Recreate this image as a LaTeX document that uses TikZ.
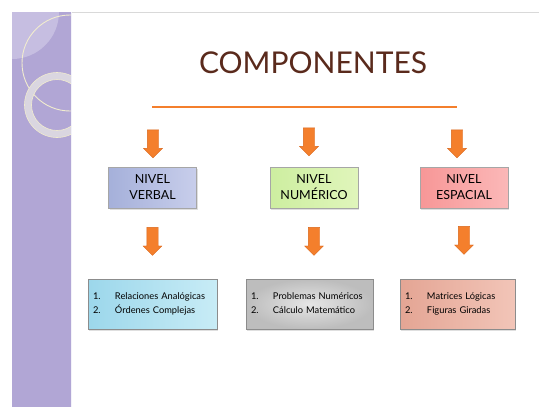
\documentclass[tikz,border=0pt]{standalone}
\usepackage{fontspec}
\setmainfont{Lato}
\usetikzlibrary{shapes,arrows,shadows,positioning}
\definecolor{cafe}{HTML}{5A2A1C}
\definecolor{naranja}{HTML}{F47F2C}
\definecolor{naranjaborde}{HTML}{D9661A}
\definecolor{lila}{HTML}{B1A6D5}
\definecolor{lilaclaro}{HTML}{C6BEE1}
\definecolor{crema}{HTML}{F1ECCF}
\definecolor{anillo}{HTML}{DAD6E0}
\definecolor{azulA}{HTML}{A5B0DA}
\definecolor{azulB}{HTML}{C8CEEB}
\definecolor{verdeA}{HTML}{CDEEA0}
\definecolor{verdeB}{HTML}{E0F5BB}
\definecolor{rojoA}{HTML}{F79797}
\definecolor{rojoB}{HTML}{FBB8B8}
\definecolor{cianA}{HTML}{9CD7EB}
\definecolor{cianB}{HTML}{C8ECF6}
\definecolor{salmonA}{HTML}{E4A594}
\definecolor{salmonB}{HTML}{F2C5B8}

\begin{document}
\begin{tikzpicture}
		[
		x = 1pt, y = -1pt,
		nivel/.style = {draw = black!35, minimum width = 88pt, minimum height = 41pt, inner sep = 0pt, align = center, font = \fontsize{12.5}{16}\selectfont, drop shadow = {opacity = 0.25, shadow xshift = 1pt, shadow yshift = -1.5pt}},
		lista/.style = {draw = black!45, minimum height = 50pt, inner xsep = 5pt, inner ysep = 0pt, align = left, font = \fontsize{9.3}{14}\selectfont, drop shadow = {opacity = 0.25, shadow xshift = 1pt, shadow yshift = -1.5pt}},
		flecha/.style = {single arrow, draw = naranjaborde, fill = naranja, shape border rotate = 270, minimum height = 28pt, inner sep = 5.5pt, single arrow head extend = 3.75pt, single arrow head indent = 0pt}
		]
		
		\useasboundingbox (0,0) rectangle (539,407);
		\fill[white] (0,0) rectangle (539,407);
		\draw[black!15, line width = 1pt] (12,12) -- (539,12);
		
		\begin{scope}
			\clip (12,12) rectangle (71,407);
			\fill[lila] (12,12) rectangle (71,407);
			\fill[lilaclaro] (12,12) circle (47);
			\draw[crema, line width = 0.9pt] (70,63) circle (48);
			\draw[anillo, line width = 7pt] (57,105) circle (29);
			\draw[crema, line width = 0.6pt] (57,105) circle (32.5);
			\draw[crema, line width = 0.6pt] (57,105) circle (25.5);
		\end{scope}
		\draw[white!85!lila, line width = 1pt] (71,12) -- (71,407);
		
		\node (titulo) at (313,63) {\textcolor{cafe}{\fontsize{30}{36}\selectfont COMPONENTES}};
		\coordinate (linea izq) at (152,107);
		\coordinate (linea der) at (457,107);
		\draw[naranja, line width = 1.8pt] (linea izq) -- (linea der);
		
		\node[nivel, left color = azulA, right color = azulB] (verbal) at (152.5,187.5) {NIVEL\\VERBAL};
		\node[nivel, left color = verdeA, right color = verdeB] (numerico) at (314,187.5) {NIVEL\\NUMÉRICO};
		\node[nivel, left color = rojoA, right color = rojoB] (espacial) at (464,187.5) {NIVEL\\ESPACIAL};
		
		\node[flecha] (f1) at (153,141) {};
		\node[flecha] (f2) at (309,139) {};
		\node[flecha] (f3) at (457,141) {};
		
		\node[flecha, below = 19pt of verbal] (g1) {};
		\node[flecha, below = 19pt of numerico] (g2) {};
		\node[flecha, below = 18pt of espacial] (g3) {};
		
		\node[lista, left color = cianA, right color = cianB, minimum width = 129pt, text width = 119pt] (analogicas) at (152.5,304) {
			\begin{tabular}{@{}p{22pt}@{}l@{}}
				1. & Relaciones Analógicas\\
				2. & Órdenes Complejas
			\end{tabular}
		};
		\node[lista, inner color = black!10, outer color = black!26, minimum width = 127pt, text width = 117pt] (problemas) at (309.5,304) {
			\begin{tabular}{@{}p{22pt}@{}l@{}}
				1. & Problemas Numéricos\\
				2. & Cálculo Matemático
			\end{tabular}
		};
		\node[lista, left color = salmonA, right color = salmonB, minimum width = 115pt, text width = 105pt] (matrices) at (457.5,304) {
			\begin{tabular}{@{}p{22pt}@{}l@{}}
				1. & Matrices Lógicas\\
				2. & Figuras Giradas
			\end{tabular}
		};
		
\end{tikzpicture}
\end{document}
